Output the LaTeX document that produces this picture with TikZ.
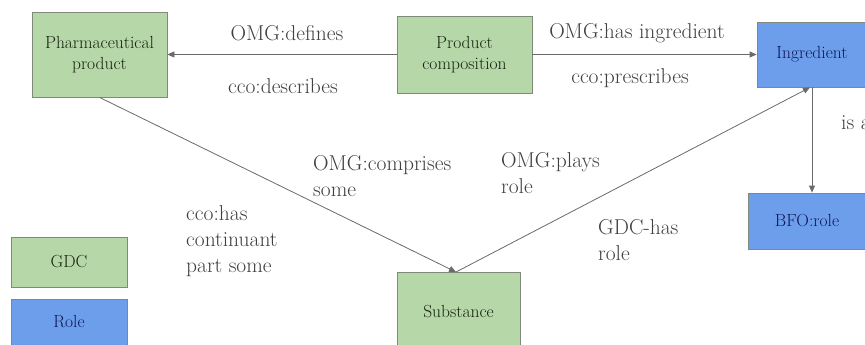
\documentclass[tikz,border=0pt]{standalone}
\usetikzlibrary{arrows.meta}
\definecolor{gfill}{HTML}{B6D7A8}
\definecolor{bfill}{HTML}{6D9EEB}
\definecolor{bdr}{HTML}{7F8A7A}
\definecolor{lbl}{HTML}{404040}
\definecolor{ln}{HTML}{6A6A6A}
\definecolor{btxt}{HTML}{16220F}
\tikzset{
  gbox/.style={draw=bdr, line width=0.8pt, fill=gfill, align=center, text=btxt, font=\fontsize{17.5}{21}\selectfont, inner sep=0pt},
  bbox/.style={draw=bdr, line width=0.8pt, fill=bfill, align=center, text=btxt!70!blue, font=\fontsize{17.5}{21}\selectfont, inner sep=0pt},
  lab/.style={text=lbl, font=\fontsize{21.5}{26}\selectfont, align=left, inner sep=0pt},
  conn/.style={draw=ln, line width=0.8pt, -{Triangle[length=7pt,width=6pt]}},
}
\begin{document}
\begin{tikzpicture}[x=1pt,y=-1pt]
\useasboundingbox (0,0) rectangle (865,345);
\fill[white] (0,0) rectangle (865,345);
\node[gbox, minimum width=135pt, minimum height=85pt] (pharma) at (99.5,54.5) {Pharmaceutical\\product};
\node[gbox, minimum width=135pt, minimum height=77pt] (pc) at (464.5,54.5) {Product\\composition};
\node[bbox, minimum width=110pt, minimum height=65pt] (ing) at (812,54.5) {Ingredient};
\node[bbox, minimum width=118pt, minimum height=56pt] (bfo) at (807,221) {BFO:role};
\node[gbox, minimum width=123pt, minimum height=80pt] (sub) at (458.5,312) {Substance};
\node[gbox, minimum width=116pt, minimum height=50pt] (gdc) at (69,262) {GDC};
\node[bbox, minimum width=116pt, minimum height=50pt, text depth=0pt] (role) at (69,324) {\raisebox{6pt}{Role}};
\coordinate (subtop) at (456,272);
\draw[conn] (pc.west) -- (pharma.east);
\draw[conn] (pc.east) -- (ing.west);
\draw[conn] (ing.south) -- (ing.south |- bfo.north);
\draw[conn] (pharma.south) -- (subtop);
\draw[conn] (subtop) -- ([xshift=-2pt]ing.south);
\node[lab] (l1) at (287,33) {OMG:defines};
\node[lab] (l2) at (283,86) {cco:describes};
\node[lab] (l3) at (637,33) {OMG:has ingredient};
\node[lab] (l4) at (630,78) {cco:prescribes};
\node[lab, anchor=west] (l5) at (841,123) {is a};
\node[lab, anchor=west] (l6) at (313,176) {OMG:comprises\\some};
\node[lab, anchor=west] (l7) at (501,173) {OMG:plays\\role};
\node[lab, anchor=west] (l8) at (186,241) {cco:has\\continuant\\part some};
\node[lab, anchor=west] (l9) at (598,240) {GDC-has\\role};
\end{tikzpicture}
\end{document}
